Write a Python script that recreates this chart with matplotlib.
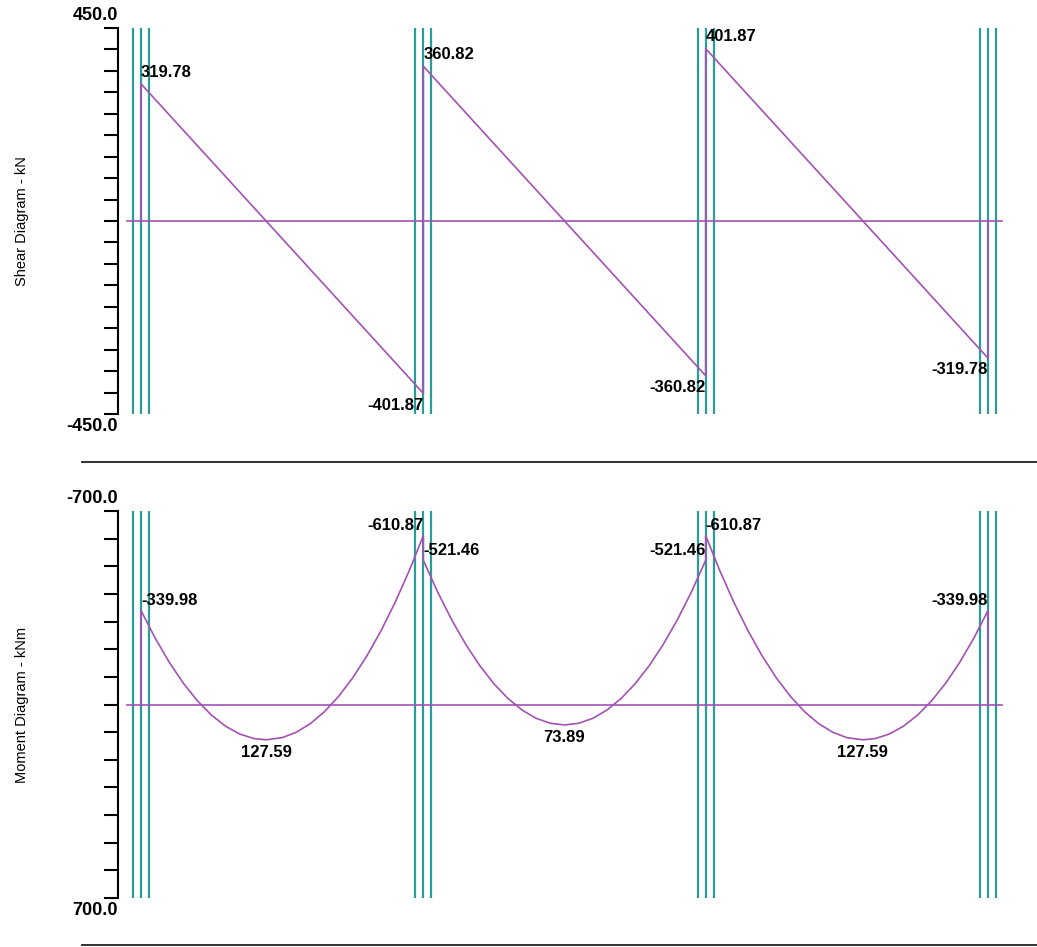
import matplotlib
matplotlib.use("Agg")
import matplotlib.pyplot as plt
from matplotlib.lines import Line2D

plt.rcParams['font.family'] = ['Liberation Sans', 'DejaVu Sans']

# supports (m) and span data
supports = [0.0, 6.6, 13.2, 19.8]
shear_start = [319.78, 360.82, 401.87]
shear_end = [-401.87, -360.82, -319.78]

# bending moment stations along each span (kNm, sagging positive, axis inverted)
m1_x = [0.0, 0.33, 0.66, 0.99, 1.32, 1.65, 1.98, 2.31, 2.64, 2.925, 3.30,
        3.63, 3.96, 4.29, 4.62, 4.95, 5.28, 5.61, 5.94, 6.27, 6.60]
m1 = [-339.98, -240.40, -152.74, -76.98, -13.13, 38.82, 78.85, 106.99, 123.21, 127.59, 119.93,
      100.44, 69.04, 25.73, -29.50, -96.62, -175.65, -266.59, -369.44, -484.20, -610.87]
m2_x = [6.60, 6.93, 7.26, 7.59, 7.92, 8.25, 8.58, 8.91, 9.24, 9.57, 9.90,
        10.23, 10.56, 10.89, 11.22, 11.55, 11.88, 12.21, 12.54, 12.87, 13.20]
m2 = [-521.46, -408.34, -307.13, -217.83, -140.44, -74.95, -21.37, 20.31, 50.07, 67.94, 73.89,
      67.94, 50.07, 20.31, -21.37, -74.95, -140.44, -217.83, -307.13, -408.34, -521.46]
m3_x = [13.20, 13.53, 13.86, 14.19, 14.52, 14.85, 15.18, 15.51, 15.84, 16.17, 16.50,
        16.875, 17.16, 17.49, 17.82, 18.15, 18.48, 18.81, 19.14, 19.47, 19.80]
m3 = [-610.87, -484.20, -369.44, -266.59, -175.65, -96.62, -29.50, 25.73, 69.04, 100.44, 119.93,
      127.59, 123.21, 106.99, 78.85, 38.82, -13.13, -76.98, -152.74, -240.40, -339.98]

# labelled values: x position, value, text
shear_labels = [(0.0, 319.78, '319.78'), (6.6, -401.87, '-401.87'), (6.6, 360.82, '360.82'),
                (13.2, -360.82, '-360.82'), (13.2, 401.87, '401.87'), (19.8, -319.78, '-319.78')]
moment_top_labels = [(0.0, -339.98, '-339.98', 'left'), (6.6, -610.87, '-610.87', 'right'),
                     (6.6, -521.46, '-521.46', 'left'), (13.2, -521.46, '-521.46', 'right'),
                     (13.2, -610.87, '-610.87', 'left'), (19.8, -339.98, '-339.98', 'right')]
moment_mid_labels = [(2.925, 127.59, '127.59'), (9.9, 73.89, '73.89'), (16.875, 127.59, '127.59')]

W, H = 1037, 947
PURPLE = '#a352b3'
TEAL = '#2a9e96'
col_off = 0.187
overhang = 0.327

fig = plt.figure(figsize=(W / 100, H / 100), dpi=100)

def px_axes(left, top, right, bottom):
    return fig.add_axes([left / W, 1 - bottom / H, (right - left) / W, (bottom - top) / H])

ax1 = px_axes(118, 28, 1010, 414)
ax2 = px_axes(118, 511, 1010, 898)

for ax in (ax1, ax2):
    ax.set_xlim(-0.538, 20.314)
    for s in ('top', 'right', 'bottom'):
        ax.spines[s].set_visible(False)
    ax.spines['left'].set_linewidth(1.5)
    ax.tick_params(axis='y', direction='out', length=10, width=1.5, labelleft=False)
    ax.set_xticks([])
    ax.patch.set_alpha(0)
    for s in supports:
        for dx in (-col_off, 0, col_off):
            ax.axvline(s + dx, color=TEAL, lw=1.6, zorder=1)
    ax.plot([supports[0] - overhang, supports[-1] + overhang], [0, 0], color=PURPLE, lw=1.2, zorder=3)

# shear diagram
ax1.set_ylim(-450, 450)
ax1.set_yticks(range(-450, 451, 50))
sx, sy = [supports[0]], [0]
for i in range(3):
    sx += [supports[i], supports[i + 1]]
    sy += [shear_start[i], shear_end[i]]
sx.append(supports[-1]); sy.append(0)
ax1.plot(sx, sy, color=PURPLE, lw=1.2, zorder=3)

txt = dict(fontsize=12, fontweight='bold', color='black', zorder=5)
for x, v, t in shear_labels:
    if v > 0:
        ax1.annotate(t, (x, v), xytext=(0, 3), textcoords='offset points', ha='left', va='bottom', **txt)
    else:
        ax1.annotate(t, (x, v), xytext=(0, -3), textcoords='offset points', ha='right', va='top', **txt)

# moment diagram
ax2.set_ylim(700, -700)
ax2.set_yticks(range(-700, 701, 100))
mx = [supports[0]] + m1_x + m2_x + m3_x + [supports[-1]]
my = [0] + m1 + m2 + m3 + [0]
ax2.plot(mx, my, color=PURPLE, lw=1.2, zorder=3, solid_joinstyle='round')
for x, v, t, ha in moment_top_labels:
    ax2.annotate(t, (x, v), xytext=(0, 2), textcoords='offset points', ha=ha, va='bottom', **txt)
for x, v, t in moment_mid_labels:
    ax2.annotate(t, (x, v), xytext=(0, -4), textcoords='offset points', ha='center', va='top', **txt)

# axis end labels
end = dict(fontsize=13, fontweight='bold', ha='right')
for ax, top, bot in ((ax1, '450.0', '-450.0'), (ax2, '-700.0', '700.0')):
    ax.annotate(top, (0, 1), xycoords='axes fraction', xytext=(0, 3), textcoords='offset points',
                va='bottom', **end)
    ax.annotate(bot, (0, 0), xycoords='axes fraction', xytext=(0, -3), textcoords='offset points',
                va='top', **end)

fig.text(22 / W, 1 - 221 / H, 'Shear Diagram - kN', rotation=90, ha='center', va='center', fontsize=10.5)
fig.text(22 / W, 1 - 705 / H, 'Moment Diagram - kNm', rotation=90, ha='center', va='center', fontsize=10.5)

for yy in (462, 945):
    fig.add_artist(Line2D([82 / W, 1.0], [1 - yy / H] * 2, color='#222222', lw=1.3))

fig.savefig('out.png', dpi=100)
